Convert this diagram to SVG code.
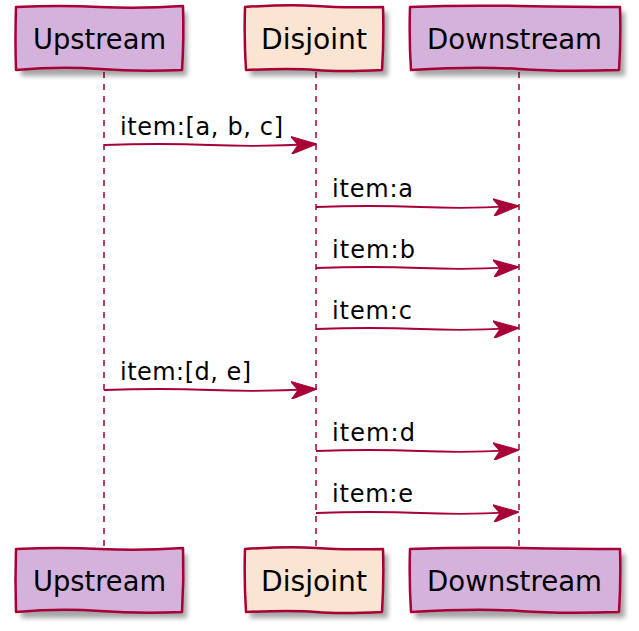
<svg xmlns="http://www.w3.org/2000/svg" width="639" height="631" viewBox="0 0 639 631">
<defs>
<filter id="sh" x="-10%" y="-10%" width="130%" height="140%"><feGaussianBlur stdDeviation="2.5"/></filter>
<marker id="ah" viewBox="0 0 26 18" refX="25" refY="9" markerWidth="26" markerHeight="18" markerUnits="userSpaceOnUse" orient="auto"><path d="M0,0 L26,9 L0,18 L7,9 Z" fill="#A80036" stroke="#A80036" stroke-width="1" stroke-linejoin="round"/></marker>
</defs>
<style>
.box{stroke:#A80036;stroke-width:2.5;stroke-linejoin:round}
.pu{fill:#D4B2DC}
.pd{fill:#FAE5D3}
.shadow{fill:#000;opacity:0.35;filter:url(#sh)}
.life{stroke:#A80036;stroke-width:1.5;stroke-dasharray:6,6;fill:none}
.msg{stroke:#A80036;stroke-width:1.8;fill:none}
.t{font-family:"DejaVu Sans","Open Sans",sans-serif;font-size:28px;fill:#000}
.l{font-family:"DejaVu Sans","Open Sans",sans-serif;font-size:24px;fill:#000}
</style>
<g id="lifelines">
<path class="life" d="M104,72 L104,546"/>
<path class="life" d="M316,72 L316,546"/>
<path class="life" d="M519,72 L519,546"/>
</g>
<g id="Upstream-top">
<rect class="shadow" x="21" y="12" width="166" height="64"/>
<path class="box pu" d="M16,7 Q60,5 100,7 T183,6 Q184,40 182,70 Q140,72 100,69 T16,70 Q15,40 16,7 Z"/>
<text class="t" x="33" y="49" textLength="133" lengthAdjust="spacingAndGlyphs">Upstream</text>
</g>
<g id="Disjoint-top">
<rect class="shadow" x="250" y="12" width="138" height="64"/>
<path class="box pd" d="M245,7 Q290,4 316,6 T383,7 Q384,40 382,70 Q340,72 316,70 T246,70 Q244,40 245,7 Z"/>
<text class="t" x="261" y="49" textLength="106" lengthAdjust="spacingAndGlyphs">Disjoint</text>
</g>
<g id="Downstream-top">
<rect class="shadow" x="415" y="12" width="210" height="64"/>
<path class="box pu" d="M410,7 Q460,5 519,6 T620,7 Q621,40 619,70 Q560,72 519,69 T411,70 Q409,40 410,7 Z"/>
<text class="t" x="427" y="49" textLength="175" lengthAdjust="spacingAndGlyphs">Downstream</text>
</g>
<g id="Upstream-bottom">
<rect class="shadow" x="21" y="554" width="166" height="64"/>
<path class="box pu" d="M16,549 Q60,547 100,549 T183,548 Q184,580 182,612 Q140,614 100,611 T16,612 Q15,580 16,549 Z"/>
<text class="t" x="33" y="591" textLength="133" lengthAdjust="spacingAndGlyphs">Upstream</text>
</g>
<g id="Disjoint-bottom">
<rect class="shadow" x="250" y="554" width="138" height="64"/>
<path class="box pd" d="M245,549 Q290,546 316,548 T383,549 Q384,580 382,612 Q340,614 316,612 T246,612 Q244,580 245,549 Z"/>
<text class="t" x="261" y="591" textLength="106" lengthAdjust="spacingAndGlyphs">Disjoint</text>
</g>
<g id="Downstream-bottom">
<rect class="shadow" x="415" y="554" width="210" height="64"/>
<path class="box pu" d="M410,549 Q460,547 519,548 T620,549 Q621,580 619,612 Q560,614 519,611 T411,612 Q409,580 410,549 Z"/>
<text class="t" x="427" y="591" textLength="175" lengthAdjust="spacingAndGlyphs">Downstream</text>
</g>
<g id="connectors">
<path class="msg" marker-end="url(#ah)" d="M104,145 Q160,143 210,145 T316,144"/>
<path class="msg" marker-end="url(#ah)" d="M316,207 Q370,205 420,207 T518,206"/>
<path class="msg" marker-end="url(#ah)" d="M316,268 Q370,266 420,268 T518,267"/>
<path class="msg" marker-end="url(#ah)" d="M316,329 Q370,327 420,329 T518,328"/>
<path class="msg" marker-end="url(#ah)" d="M104,390 Q160,388 210,390 T316,389"/>
<path class="msg" marker-end="url(#ah)" d="M316,451 Q370,449 420,451 T518,450"/>
<path class="msg" marker-end="url(#ah)" d="M316,513 Q370,511 420,513 T518,512"/>
</g>
<g id="labels">
<text class="l" x="120" y="135" textLength="163">item:[a, b, c]</text>
<text class="l" x="332" y="197" textLength="81">item:a</text>
<text class="l" x="332" y="258" textLength="83">item:b</text>
<text class="l" x="332" y="319" textLength="80">item:c</text>
<text class="l" x="120" y="380" textLength="131">item:[d, e]</text>
<text class="l" x="332" y="441" textLength="83">item:d</text>
<text class="l" x="332" y="502" textLength="81">item:e</text>
</g>
</svg>
